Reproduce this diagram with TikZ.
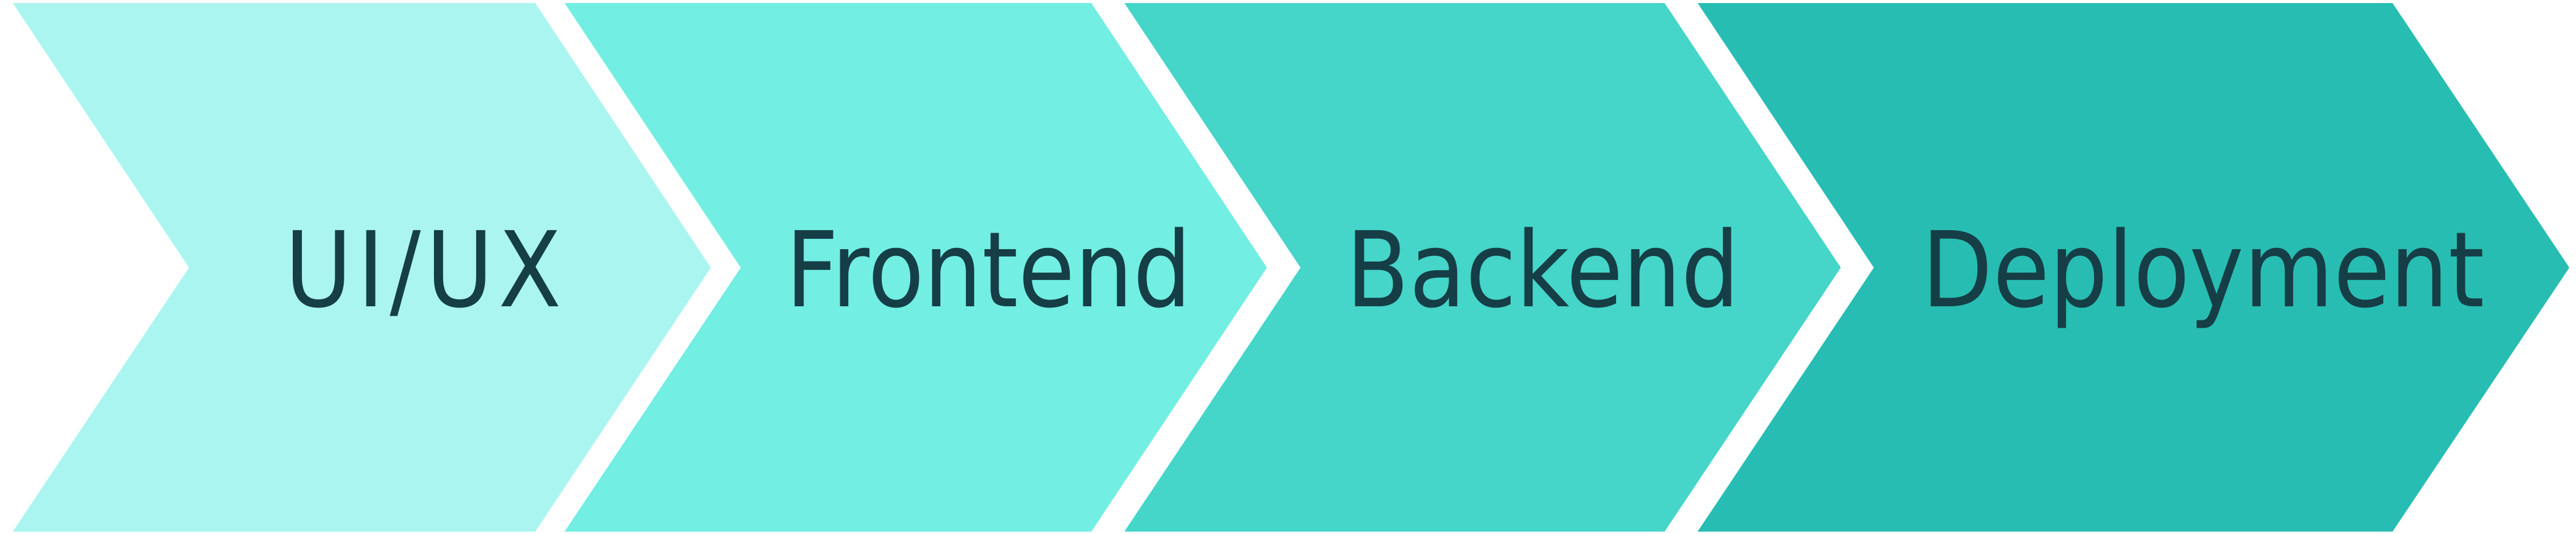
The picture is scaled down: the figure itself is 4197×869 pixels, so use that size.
\documentclass[tikz,border=0pt]{standalone}
\usepackage{fontspec}
\usepackage{tikz}
\newfontfamily\stagefont[FakeStretch=0.88]{DejaVu Sans}
\definecolor{stageA}{HTML}{AAF5EF}
\definecolor{stageB}{HTML}{72EEE3}
\definecolor{stageC}{HTML}{45D5C9}
\definecolor{stageD}{HTML}{28BDB2}
\definecolor{stagetext}{HTML}{163E46}

\begin{document}
\begin{tikzpicture}[x=0.01cm,y=-0.01cm,
	label/.style={anchor=base,inner sep=0pt,text=stagetext,font=\stagefont\fontsize{48.4}{58}\selectfont}]
	\useasboundingbox (0,0) rectangle (4197,869);
	% chevrons
	\fill[stageA] (21,5) -- (872,5) -- (1158,436) -- (872,866) -- (21,866) -- (308,436) -- cycle;
	\fill[stageB] (920,5) -- (1778,5) -- (2064,436) -- (1778,866) -- (920,866) -- (1207,436) -- cycle;
	\fill[stageC] (1832,5) -- (2712,5) -- (2999,436) -- (2712,866) -- (1832,866) -- (2119,436) -- cycle;
	\fill[stageD] (2766,5) -- (3898,5) -- (4186,436) -- (3898,866) -- (2766,866) -- (3053,436) -- cycle;
	% labels
	\node[label] (uiux) at (690,499) {\addfontfeature{LetterSpace=5}UI/UX};
	\node[label] (frontend) at (1611,499) {Frontend};
	\node[label] (backend) at (2514,499) {Backend};
	\node[label] (deployment) at (3590,499) {Deployment};
\end{tikzpicture}
\end{document}
